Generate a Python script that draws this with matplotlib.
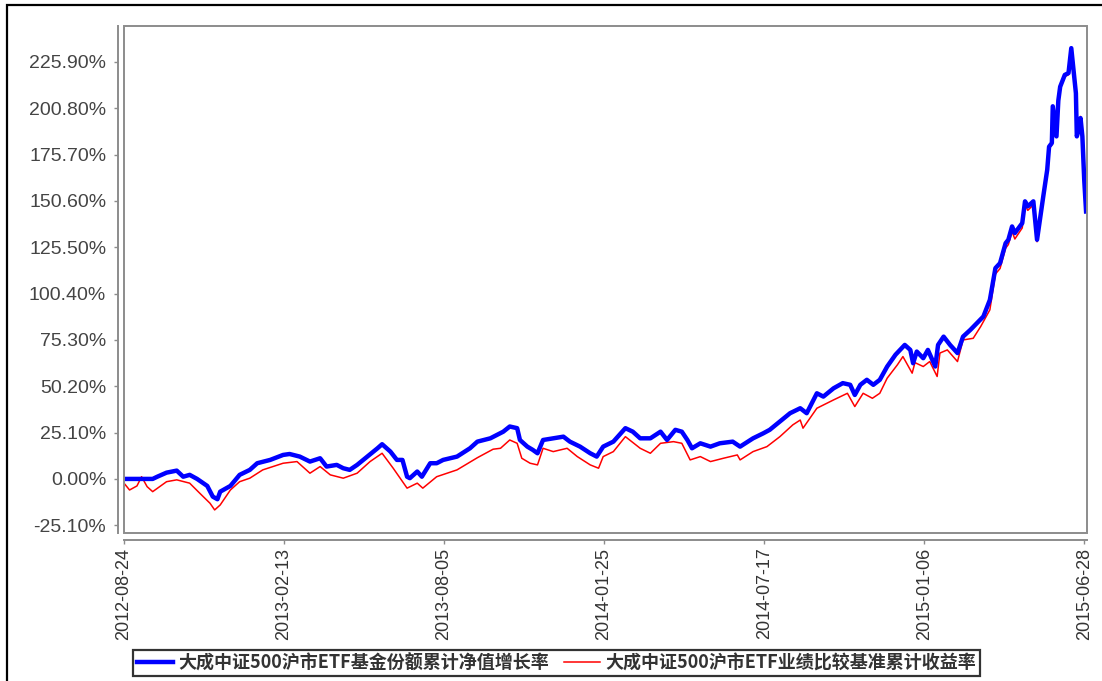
import matplotlib
matplotlib.use('Agg')
import matplotlib.pyplot as plt
from matplotlib.patches import Rectangle
from matplotlib.lines import Line2D
from matplotlib.ticker import FixedLocator, FixedFormatter
import numpy as np

start_date = '2012-08-24'

# blue: fund NAV cumulative growth (%), x = days since start_date
blue_days = [0, 31, 36, 46, 57, 64, 71, 79, 90, 96, 101, 104, 115, 125, 136, 144, 158, 172, 179, 190,
             201, 212, 219, 230, 237, 244, 252, 263, 274, 279, 288, 295, 301, 306, 309, 317, 322, 331,
             338, 345, 360, 374, 382, 396, 410, 417, 425, 428, 436, 442, 447, 453, 464, 475, 482, 493,
             504, 511, 518, 529, 542, 550, 558, 569, 580, 587, 596, 603, 609, 614, 623, 634, 644, 658,
             666, 680, 691, 698, 709, 720, 731, 738, 749, 756, 767, 777, 785, 790, 796, 803, 810, 817,
             825, 834, 844, 850, 853, 857, 864, 869, 877, 880, 886, 893, 901, 907, 915, 922, 929, 936,
             942, 947, 953, 956, 960, 963, 967, 971, 974, 977, 983, 987, 994, 998, 1000, 1003, 1004,
             1008, 1010, 1012, 1017, 1021, 1024, 1026, 1029, 1030, 1033, 1034, 1036, 1038, 1040]
blue_vals = [0.0, 0.0, 1.2, 3.4, 4.5, 1.2, 2.2, 0.0, -3.8, -9.6, -11.0, -6.9, -3.8, 2.2, 4.9, 8.5, 10.3,
             13.0, 13.5, 12.1, 9.4, 11.2, 6.7, 7.6, 5.8, 4.9, 7.6, 12.1, 16.6, 18.8, 14.8, 10.3, 10.3,
             1.2, 0.4, 4.0, 1.2, 8.5, 8.5, 10.3, 12.1, 16.6, 20.2, 22.0, 25.6, 28.4, 27.5, 21.1, 17.5,
             15.7, 13.9, 21.1, 22.0, 22.9, 20.2, 17.5, 13.9, 12.1, 17.5, 20.2, 27.5, 25.6, 22.0, 22.0,
             25.6, 21.1, 26.6, 25.6, 21.1, 16.6, 19.3, 17.5, 19.3, 20.2, 17.5, 22.0, 24.7, 26.6, 31.1,
             35.6, 38.3, 35.6, 46.4, 44.6, 49.1, 51.9, 51.0, 45.5, 51.0, 53.7, 51.0, 53.7, 60.9, 67.3,
             72.6, 69.9, 62.7, 69.0, 65.4, 69.9, 60.9, 72.6, 77.1, 72.6, 68.2, 77.1, 80.8, 84.4, 88.0,
             97.0, 114.2, 116.9, 127.7, 129.6, 136.8, 133.2, 135.9, 138.6, 150.4, 147.7, 150.4, 129.6,
             154.0, 167.5, 180.0, 182.0, 201.9, 185.6, 205.0, 212.5, 218.9, 219.9, 233.4, 223.5, 209.0,
             185.6, 191.0, 195.5, 185.6, 162.1, 144.9]

# red: benchmark cumulative return (%)
red_days = [0, 6, 14, 19, 25, 31, 46, 57, 71, 82, 93, 98, 104, 115, 125, 136, 150, 172, 187, 201, 212,
            223, 237, 252, 266, 279, 291, 306, 317, 323, 338, 360, 382, 399, 407, 417, 425, 430, 439, 447,
            453, 464, 479, 490, 504, 513, 518, 529, 542, 558, 569, 580, 594, 603, 612, 623, 634, 648, 663,
            666, 680, 695, 709, 723, 731, 734, 749, 767, 782, 790, 799, 809, 817, 825, 836, 842, 852, 855,
            864, 871, 879, 882, 890, 901, 907, 918, 926, 936, 942, 947, 953, 956, 960, 963, 967, 971, 974,
            977, 983, 987, 994, 998, 1000, 1003, 1004, 1008, 1010, 1012, 1017, 1021, 1024, 1026, 1029,
            1030, 1033, 1034, 1036, 1038, 1040]
red_vals = [-2.3, -6.0, -3.8, 1.2, -4.2, -6.9, -1.5, -0.5, -2.3, -7.8, -13.2, -16.8, -14.1, -6.0, -1.5,
            0.4, 4.9, 8.5, 9.4, 3.1, 6.7, 2.2, 0.4, 3.1, 9.4, 13.9, 5.8, -5.0, -2.3, -5.0, 1.2, 4.9, 11.5,
            16.1, 16.6, 21.1, 19.3, 11.2, 8.5, 7.6, 16.6, 14.8, 16.6, 12.1, 7.6, 5.8, 12.1, 14.8, 22.9,
            16.6, 13.9, 19.3, 20.2, 19.3, 10.3, 12.1, 9.4, 11.2, 13.0, 10.3, 14.8, 17.5, 22.9, 29.3, 31.9,
            27.5, 38.3, 42.8, 46.4, 39.2, 46.4, 43.7, 46.4, 54.6, 61.8, 66.3, 57.3, 63.0, 60.9, 63.6, 55.5,
            68.2, 69.9, 63.6, 75.3, 76.2, 82.5, 91.6, 111.0, 114.0, 125.0, 127.0, 134.0, 130.0, 133.0,
            136.0, 148.5, 145.5, 148.5, 128.5, 152.5, 166.5, 179.0, 181.0, 201.0, 185.0, 204.0, 212.0,
            218.0, 219.0, 233.0, 223.0, 208.5, 185.5, 191.5, 196.4, 185.5, 162.0, 145.0]

x_tick_labels = ['2012-08-24', '2013-02-13', '2013-08-05', '2014-01-25',
                 '2014-07-17', '2015-01-06', '2015-06-28']
y_tick_vals = [-25.10, 0.00, 25.10, 50.20, 75.30, 100.40, 125.50, 150.60, 175.70, 200.80, 225.90]

label_blue = '大成中证500沪市ETF基金份额累计净值增长率'
label_red = '大成中证500沪市ETF业绩比较基准累计收益率'

plt.rcParams['font.family'] = ['Liberation Sans', 'DejaVu Sans']

W, H = 1102, 681
fig = plt.figure(figsize=(W / 100, H / 100), dpi=100)
fig.patch.set_facecolor('white')

# outer black border (left and top visible)
fig.add_artist(Rectangle((7 / W, -0.1), 1.5, 1 - 5 / H + 0.1, transform=fig.transFigure,
                         fill=False, ec='black', lw=1.6))

ax = fig.add_axes([124 / W, 1 - 533 / H, (1087 - 124) / W, (533 - 26) / H])

# x axis in days since start date; tick positions derived from the date labels
t0 = np.datetime64(start_date)
tick_days = [(np.datetime64(d) - t0).astype(int) for d in x_tick_labels]

ax.plot(red_days, red_vals, color='#ff0000', lw=1.1, zorder=3)
ax.plot(blue_days, blue_vals, color='#0000ff', lw=3.2, zorder=4, solid_joinstyle='round')

ax.set_xlim(0, 1041)
ax.set_ylim(-29.3, 245.4)

ax.xaxis.set_major_locator(FixedLocator(tick_days))
ax.xaxis.set_major_formatter(FixedFormatter(x_tick_labels))
ax.yaxis.set_major_locator(FixedLocator(y_tick_vals))
ax.yaxis.set_major_formatter(FixedFormatter([f'{v:.2f}%' for v in y_tick_vals]))

for s in ['top', 'right']:
    ax.spines[s].set_visible(False)
ax.spines['left'].set_position(('outward', 4.3))
ax.spines['bottom'].set_position(('outward', 5))
for s in ['left', 'bottom']:
    ax.spines[s].set_color('#8c8c8c')
    ax.spines[s].set_linewidth(1.4)

ax.add_patch(Rectangle((0, 0), 1, 1, transform=ax.transAxes, fill=False,
                       ec='#8c8c8c', lw=1.4, clip_on=False, zorder=5))

ax.tick_params(axis='y', direction='out', length=3, width=1, color='#8c8c8c', pad=5.5,
               labelsize=14, labelcolor='#444444')
ax.tick_params(axis='x', direction='out', length=3, width=1, color='#8c8c8c', pad=2.5,
               labelsize=13, labelcolor='#333333', labelrotation=90)

handles = [Line2D([], [], color='#0000ff', lw=3.2), Line2D([], [], color='#ff0000', lw=1.1)]
leg = fig.legend(handles, [label_blue, label_red], loc='center',
                 bbox_to_anchor=((137 + 976) / 2 / W, 1 - 663 / H), ncol=2,
                 prop={'family': ['Noto Sans CJK SC', 'DejaVu Sans'], 'weight': 'bold', 'size': 13},
                 frameon=True, fancybox=False, edgecolor='black', handlelength=2.0,
                 handletextpad=0.3, columnspacing=0.8, borderpad=0.2, labelcolor='#333333')
leg.get_frame().set_linewidth(1.6)

fig.savefig('out.png', dpi=100, facecolor='white')
